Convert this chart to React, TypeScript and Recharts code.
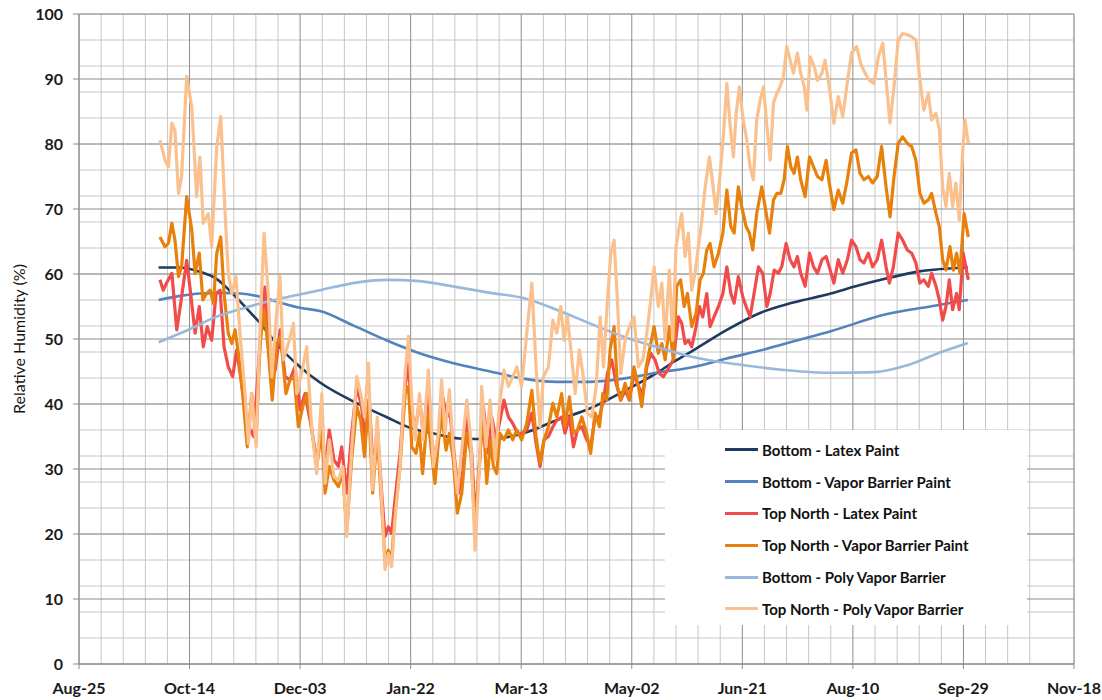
import React from 'react';
import { LineChart, Line, XAxis, YAxis, CartesianGrid, Legend } from 'recharts';

// ---- axis definitions ----
const tickDays = [0, 50, 100, 150, 200, 250, 300, 350, 400, 450];
const tickLabels = ['Aug-25', 'Oct-14', 'Dec-03', 'Jan-22', 'Mar-13', 'May-02', 'Jun-21', 'Aug-10', 'Sep-29', 'Nov-18'];
const yTicks = [0, 10, 20, 30, 40, 50, 60, 70, 80, 90, 100];

// ---- series: day offsets (days after Aug-25) and relative humidity (%) ----
const bottomLatexDays = [36, 45, 55, 62, 68, 75, 82, 90, 100, 109, 124, 139, 150, 160, 172, 186, 201, 216, 231, 246, 261, 269, 278, 293, 308, 323, 340, 350, 365, 380, 402];
const bottomLatexRH = [61.0, 61.0, 60.3, 59.3, 57.5, 55.0, 52.4, 49.0, 45.7, 43.3, 40.4, 38.0, 36.3, 35.5, 34.7, 34.6, 35.5, 37.5, 39.3, 41.9, 44.7, 46.5, 48.3, 51.4, 54.0, 55.6, 57.0, 58.0, 59.3, 60.4, 61.0];

const bottomVBDays = [36, 45, 55, 65, 73, 82, 92, 100, 109, 124, 139, 154, 169, 186, 201, 216, 231, 246, 261, 278, 293, 310, 325, 340, 365, 385, 402];
const bottomVBRH = [56.0, 56.6, 57.0, 57.1, 57.0, 56.5, 55.5, 54.8, 54.3, 52.1, 49.8, 47.8, 46.3, 45.0, 43.9, 43.4, 43.4, 43.9, 44.8, 45.7, 47.0, 48.4, 49.8, 51.2, 53.8, 55.0, 56.0];

const topLatexDays = [36.6, 38.1, 39.6, 42, 44.2, 46, 48.7, 50.5, 52.5, 54.4, 56.2, 58, 60, 62, 63.8, 65.6, 67.5, 69.5, 71.3, 73.1, 76, 79, 82, 84.1, 86.4, 88.7, 91, 93.2, 95.4, 97.7, 100, 102.2, 104.5, 107.5, 109.5, 111.3, 113.2, 115.3, 117.3, 118.8, 121.1, 123.3, 125.6, 127.8, 129.4, 131.3, 133.1, 134.9, 136.9, 138.4, 139.9, 141.4, 142.9, 145.2, 147.5, 149, 150.5, 152.4, 154, 155.7, 157.6, 159.5, 161, 163, 164.5, 166.3, 167.8, 169.6, 171.6, 173.5, 175.4, 177.6, 179.3, 181.4, 182.9, 185.2, 186.7, 188.6, 190.4, 192.2, 194.2, 196.2, 198.3, 200.2, 202.5, 204.8, 206.7, 208.5, 210.3, 212.3, 214.3, 216.1, 218.3, 219.8, 221.8, 223.6, 225.4, 227.4, 229.6, 231.4, 233.4, 235.4, 237.2, 239, 240.9, 242.9, 245, 247, 248.9, 251, 253, 255, 256.8, 258.6, 260.5, 262.5, 264.3, 266.1, 268.8, 271.1, 272.6, 274.1, 275.6, 277.1, 279.1, 280.6, 282.1, 283.9, 285.4, 287.2, 289.2, 291.2, 293, 294.8, 296.3, 298.2, 300.2, 301.7, 303.5, 305.3, 307.3, 309.2, 311.1, 312.6, 314.4, 316.3, 317.8, 319.8, 321.6, 323.4, 324.9, 326.4, 328.4, 330.4, 332.2, 334, 336, 337.9, 339.3, 341.4, 343.4, 345.4, 347.5, 349.4, 351.4, 353.2, 355, 357, 358.9, 361, 363, 365, 366.5, 368.3, 370.5, 372.5, 374.6, 376.6, 378.5, 380.3, 382.1, 384.1, 385.6, 387.6, 389.1, 390.6, 392.1, 393.6, 395.1, 396.9, 398.1, 399.9, 402.2];
const topLatexRH = [59.1, 57.5, 58.6, 60.1, 51.4, 55.5, 62.1, 57, 50.9, 55, 48.8, 51.9, 49.8, 57, 57.5, 48.8, 45.7, 44.2, 48.3, 44.2, 37, 35, 50, 58, 46.8, 45.2, 51.4, 44.2, 43.7, 45.7, 39.1, 41.6, 37.5, 31.4, 35.5, 30.4, 36, 31.4, 30.4, 33.4, 26.3, 35.5, 42.7, 39.6, 34.5, 40.6, 29.3, 36.5, 26.3, 19.6, 21.1, 20.1, 25.2, 32.4, 42.7, 46.3, 38.6, 36.5, 40.6, 35.5, 41.6, 34.5, 31.4, 35.5, 41.1, 38, 38.6, 32.4, 26.3, 29.3, 38, 32.4, 22.1, 32.4, 39.6, 32.4, 38, 34.5, 37.5, 40.6, 38, 37, 35.5, 35.5, 36, 38.6, 34, 30.4, 34.5, 35, 36.5, 37.5, 38, 35.5, 38, 33.4, 36, 36.5, 34.5, 33.4, 38, 38, 40.6, 44.7, 46.8, 43.2, 40.6, 42.1, 40.6, 44.7, 42.7, 41.6, 45.7, 47.8, 46.8, 44.7, 44.2, 45.2, 46.8, 53.4, 52.4, 49.3, 49.8, 48.8, 51.9, 55, 53.4, 57, 51.9, 53.4, 55, 57, 61.1, 57, 55.5, 59.6, 56.5, 55, 53.4, 57, 61.1, 60.1, 55, 57, 60.6, 60.1, 61.1, 64.7, 62.2, 61.1, 62.7, 60.1, 58.1, 63.2, 61.1, 60.1, 62.2, 62.7, 61.1, 58.6, 62.2, 60.1, 62.2, 65.2, 64.2, 62.2, 61.7, 63.2, 61.1, 62.2, 65.2, 61.1, 58.6, 61.1, 66.3, 65.2, 63.7, 63.2, 61.7, 58.6, 59.1, 58.1, 60.1, 58.1, 56, 52.9, 55, 59.1, 54.5, 57, 54.5, 63.2, 59.1];

const topVBDays = [36.6, 38.9, 40.4, 42, 43.4, 45, 46.4, 48.7, 51, 52.5, 54.4, 56, 57.7, 59.3, 60.8, 62.3, 64.1, 65.6, 67.5, 69.1, 70.6, 72.1, 74, 76.1, 78.1, 80.1, 81.9, 83.7, 85.6, 87.4, 89.4, 91.2, 93.6, 95.4, 97.3, 99.2, 101.2, 103, 105.2, 107.5, 109.8, 111.3, 113.2, 115.3, 117.3, 119.3, 121.1, 123.3, 125.6, 127.4, 129.1, 130.9, 132.8, 134.9, 136.9, 138.4, 139.9, 141.4, 142.9, 145.2, 147.5, 149, 150.5, 152.4, 154, 155.4, 157.6, 159.5, 161, 162.5, 164, 166, 167.5, 169.3, 171.1, 173.1, 175.4, 177.2, 179.1, 181.1, 182.6, 184.4, 186.2, 187.4, 188.9, 190.4, 192.2, 194.2, 196.2, 198, 200.2, 202.5, 204.8, 206.7, 208.5, 210.3, 212.3, 214.3, 216.1, 218.3, 219.8, 221.8, 223.6, 225.4, 227.4, 229.6, 231.4, 233.4, 235.4, 236.9, 238.7, 240.2, 242, 243.5, 245, 247, 248.9, 251, 253, 254.5, 256.5, 258.3, 260.1, 262, 263.6, 265.1, 267, 268.8, 270.3, 272.1, 273.7, 275.2, 277.1, 279.1, 280.9, 282.4, 283.9, 285.4, 287.2, 289.2, 291.2, 293, 294.8, 296.3, 298.2, 299.7, 301.7, 303.2, 304.7, 306.5, 308.8, 310.8, 312.3, 314.1, 315.6, 317.4, 318.9, 320.4, 321.9, 323.4, 324.9, 326.4, 328.4, 330.4, 332.2, 334, 336, 337.9, 339.3, 341.4, 343.4, 345.4, 347.2, 349.4, 351.4, 353.2, 355, 357, 358.9, 361, 363, 365, 366.8, 368.6, 370.5, 372.5, 374.6, 376.6, 378.5, 380.3, 382.1, 384.1, 385.6, 387.6, 389.1, 390.6, 392.1, 393.9, 395.4, 396.9, 398.4, 400.3, 402.2];
const topVBRH = [65.7, 64.2, 64.7, 67.8, 65.2, 59.6, 61.1, 71.9, 66.8, 60.1, 63.2, 56, 57, 57.5, 55.5, 63.2, 65.7, 57, 50.9, 49.3, 51.4, 47.8, 41.6, 33.4, 41.6, 34.5, 49.3, 54.5, 48.3, 40.6, 49.3, 50.3, 41.6, 43.7, 44.2, 36.5, 39.6, 41.6, 36.5, 30.3, 36, 26.3, 30.4, 28.3, 27.3, 29.3, 20.6, 31.4, 39.6, 37.5, 31.9, 40.6, 26.3, 35.5, 24.2, 16, 17.5, 16, 23.2, 30.4, 41.6, 42.7, 33.4, 32.4, 35.5, 29.3, 38.6, 32.4, 27.8, 34, 38.6, 32.9, 35.5, 31.4, 23.2, 26.3, 35.5, 32.4, 21.1, 30.4, 39.6, 27.8, 34.5, 30.4, 29.3, 35.5, 34.5, 36, 34.5, 36, 34.5, 37, 42.1, 35, 30.9, 34.5, 36.5, 40.1, 38, 41.6, 36.5, 41.1, 35.5, 36, 38, 35.5, 32.4, 38.6, 36.5, 41.6, 40.6, 48.3, 51.9, 42.7, 40.6, 43.2, 40.6, 45.7, 42.7, 39.6, 45.7, 48.8, 51.9, 47.8, 49.3, 46.8, 51.9, 46.8, 58.1, 59.1, 55, 57, 51.9, 54, 59.1, 60.1, 63.7, 64.7, 61.1, 63.2, 66.3, 72.9, 67.3, 66.3, 73.4, 70.4, 67.3, 66.3, 63.7, 69.3, 73.4, 69.3, 66.3, 71.4, 72.4, 72.4, 74.5, 79.6, 76.5, 75.5, 78, 74.5, 71.9, 78, 76.5, 75, 74.5, 77.5, 74, 69.9, 72.9, 70.9, 74, 78.6, 79.1, 75.5, 74.5, 75, 74, 75, 79.6, 73.4, 68.8, 75, 80.1, 81.1, 80.1, 79.6, 77.5, 72.4, 70.9, 71.4, 72.4, 69.3, 67.3, 62.2, 60.6, 64.2, 60.6, 63.2, 60.1, 69.3, 65.7];

const bottomPolyDays = [36, 50, 62, 77, 92, 109, 124, 139, 154, 169, 186, 201, 216, 231, 246, 261, 278, 300, 320, 340, 360, 375, 390, 402];
const bottomPolyRH = [49.5, 51.5, 53.4, 55.0, 56.3, 57.5, 58.6, 59.1, 58.9, 58.1, 57.1, 56.3, 54.5, 52.4, 50.4, 48.8, 47.2, 46.0, 45.2, 44.8, 44.9, 46.0, 48.0, 49.4];

const topPolyDays = [36.6, 38.9, 40.4, 42, 43.4, 45, 46.4, 48.7, 51, 53.2, 54.7, 56.2, 58.5, 60, 62.3, 64.1, 66, 67.5, 69.1, 71, 72.8, 75.1, 76.6, 78.1, 80.1, 81.9, 83.7, 85.6, 87.2, 89.1, 90.9, 92.4, 94.7, 97, 98.5, 100.7, 103, 105.2, 107.5, 109.8, 111.3, 113.2, 115.3, 117.3, 119.3, 121.1, 123.3, 125.6, 127.4, 129.1, 130.9, 132.8, 134.9, 136.9, 138.4, 139.9, 141.4, 142.9, 145.2, 147.5, 149, 150.5, 152, 154, 155.7, 158, 160.3, 162.5, 164, 165.5, 167.5, 169.3, 171.1, 173.1, 175.4, 177.2, 179.1, 181.1, 182.1, 184.1, 185.9, 188.2, 190.1, 192.2, 194.2, 196.2, 198, 200.2, 202.5, 204.8, 206.7, 208.5, 210, 212.3, 214.3, 216.1, 217.9, 219.4, 220.9, 222.8, 224.4, 226.3, 228.1, 229.9, 231.9, 233.9, 235.7, 237.2, 239, 240.5, 242, 243.5, 245, 247, 248.9, 251, 253, 255, 256.8, 258.6, 260.1, 262, 263.6, 265.1, 267, 268.5, 270, 271.5, 272.6, 274.1, 275.6, 277.1, 278.6, 280.1, 281.7, 283.2, 285.1, 286.6, 288.1, 290, 291.5, 293, 294.5, 296, 297.2, 298.7, 300.2, 302, 303.5, 305, 306.5, 308.1, 309.6, 311.1, 312.6, 314.1, 315.6, 317.1, 318.6, 320.1, 321.6, 323.1, 324.9, 326.4, 328, 329.2, 330.7, 332.5, 334, 336, 337.4, 339.3, 341.4, 343.4, 345.4, 347.2, 349.4, 351.7, 353.5, 355.5, 357.4, 359.5, 361.5, 363.5, 365.3, 366.8, 368.6, 370.5, 372.5, 374.6, 376.6, 378.5, 380.3, 382.1, 384.1, 385.6, 387.6, 389.1, 390.6, 392.1, 393.6, 395.1, 396.6, 398.1, 399.6, 400.7, 402.2];
const topPolyRH = [80.6, 77.5, 76.5, 83.2, 82.1, 72.4, 75, 90.4, 85.7, 71.9, 78, 67.8, 69.3, 64.2, 79.6, 84.2, 69.9, 60.1, 57, 59.6, 50.9, 41.6, 33.9, 41.6, 33.4, 51.9, 66.3, 57, 44.2, 52.9, 59.6, 46.8, 49.3, 52.4, 41.6, 44.7, 48.8, 36.5, 29.3, 41.6, 27.8, 34.5, 28.8, 28.3, 30.4, 19.6, 32.9, 44.2, 41.6, 38, 46.3, 26.8, 38, 25.2, 14.5, 17, 15, 22.1, 30.4, 44.7, 50.4, 40.6, 34.5, 41.6, 34.5, 45.2, 30.4, 35.5, 43.7, 35.5, 42.2, 32.9, 26.3, 32.9, 40.6, 34.5, 17.5, 30.4, 42.7, 33.4, 40.6, 31.4, 39.6, 45.2, 42.7, 44.2, 45.7, 42.7, 50.9, 58.6, 45.7, 36.5, 44.2, 45.7, 52.9, 50.9, 55, 49.8, 53.4, 47.3, 41.6, 48.3, 44.2, 38.6, 38, 42.7, 53.4, 45.7, 56, 63.2, 65.2, 56, 44.7, 49.8, 51.9, 53.4, 45.7, 46.8, 50.9, 56, 61.1, 55, 58.6, 49.8, 60.6, 49.8, 64.2, 67.3, 69.3, 62.7, 66.3, 57.5, 60.1, 64.2, 68.3, 73.4, 78, 74, 69.3, 75.5, 81.6, 89.3, 82.7, 78, 84.7, 88.8, 84.2, 80.6, 76.5, 74.5, 83.7, 86.8, 88.8, 82.7, 77.5, 86.3, 87.8, 88.8, 90.4, 95, 92.9, 90.9, 94, 90.9, 88.8, 85.2, 93.4, 91.9, 89.8, 90.9, 92.9, 88.8, 83.2, 87.3, 84.2, 88.8, 94, 95, 92.4, 90.9, 89.8, 89.3, 93.4, 95.5, 88.8, 83.2, 88.8, 96, 97, 96.8, 96.5, 96, 89.8, 85.2, 87.8, 83.7, 84.7, 82.2, 73.4, 70.4, 75.5, 70.4, 74, 68.3, 78.6, 83.7, 80.1];

const zip = (days: number[], rh: number[]) => days.map((day, i) => ({ day, rh: rh[i] }));

const series = [
  { name: 'Bottom - Latex Paint', data: zip(bottomLatexDays, bottomLatexRH), color: '#1F3A5F', width: 2.6, smooth: true },
  { name: 'Bottom - Vapor Barrier Paint', data: zip(bottomVBDays, bottomVBRH), color: '#5383BC', width: 2.6, smooth: true },
  { name: 'Top North - Latex Paint', data: zip(topLatexDays, topLatexRH), color: '#F24B4B', width: 3.2, smooth: false },
  { name: 'Top North - Vapor Barrier Paint', data: zip(topVBDays, topVBRH), color: '#E8800C', width: 3.2, smooth: false },
  { name: 'Bottom - Poly Vapor Barrier', data: zip(bottomPolyDays, bottomPolyRH), color: '#9AB8DC', width: 2.6, smooth: true },
  { name: 'Top North - Poly Vapor Barrier', data: zip(topPolyDays, topPolyRH), color: '#FAC18E', width: 3.2, smooth: false },
];

const minorX = Array.from({ length: 46 }, (_, i) => i * 10);
const minorY = Array.from({ length: 51 }, (_, i) => i * 2);

const FONT = 'Lato, "Liberation Sans", sans-serif';

const LegendBox = () => (
  <div style={{ width: 362, height: 195, background: '#fff', boxSizing: 'border-box', paddingTop: 4, fontFamily: FONT, fontWeight: 700, fontSize: 15, color: '#111' }}>
    {series.map((s) => (
      <div key={s.name} style={{ display: 'flex', alignItems: 'center', height: 31.8, marginLeft: 60, whiteSpace: 'nowrap' }}>
        <span style={{ display: 'inline-block', width: 33, height: 3, background: s.color, marginRight: 4 }} />
        <span>{s.name}</span>
      </div>
    ))}
  </div>
);

const YTitle = (props: any) => {
  const vb = props.viewBox || { x: 0, y: 14, width: 79, height: 650 };
  const cx = vb.x + 18;
  const cy = vb.y + vb.height / 2;
  return (
    <text x={cx} y={cy} transform={`rotate(-90 ${cx} ${cy})`} textAnchor="middle" dominantBaseline="central" fontFamily={FONT} fontWeight={400} fontSize={16} fill="#111">
      Relative Humidity (%)
    </text>
  );
};

export default function App() {
  return (
    <div style={{ width: 1102, height: 700 }}>
      <style>{'html, body { margin: 0; padding: 0; overflow: hidden; }'}</style>
      <LineChart width={1102} height={700} margin={{ top: 14, right: 28, bottom: 0, left: 0 }}>
        <CartesianGrid verticalValues={minorX} horizontalValues={minorY} stroke="#c6c6c6" strokeWidth={1} />
        <CartesianGrid verticalValues={tickDays} horizontalValues={yTicks} stroke="#8c8c8c" strokeWidth={1} />
        <XAxis
          type="number"
          dataKey="day"
          domain={[0, 450]}
          ticks={tickDays}
          tickFormatter={(v: number) => tickLabels[tickDays.indexOf(v)] ?? ''}
          height={36}
          tickSize={5}
          tickMargin={14}
          axisLine={{ stroke: '#8c8c8c' }}
          tickLine={{ stroke: '#8c8c8c' }}
          tick={{ fontFamily: FONT, fontWeight: 700, fontSize: 16, fill: '#1a1a1a' }}
          allowDataOverflow
        />
        <YAxis
          type="number"
          domain={[0, 100]}
          ticks={yTicks}
          width={79}
          tickSize={6}
          tickMargin={10}
          axisLine={{ stroke: '#8c8c8c' }}
          tickLine={{ stroke: '#8c8c8c' }}
          tick={{ fontFamily: FONT, fontWeight: 700, fontSize: 16, fill: '#1a1a1a' }}
          label={<YTitle />}
        />
        {series.map((s) => (
          <Line
            key={s.name}
            name={s.name}
            data={s.data}
            dataKey="rh"
            type={s.smooth ? 'monotone' : 'linear'}
            stroke={s.color}
            strokeWidth={s.width}
            dot={false}
            activeDot={false}
            isAnimationActive={false}
            strokeLinejoin="round"
          />
        ))}
        <Legend
          layout="vertical"
          align="center"
          verticalAlign="middle"
          content={<LegendBox />}
          wrapperStyle={{ left: 665, top: 430, width: 362, height: 195 }}
        />
      </LineChart>
    </div>
  );
}
